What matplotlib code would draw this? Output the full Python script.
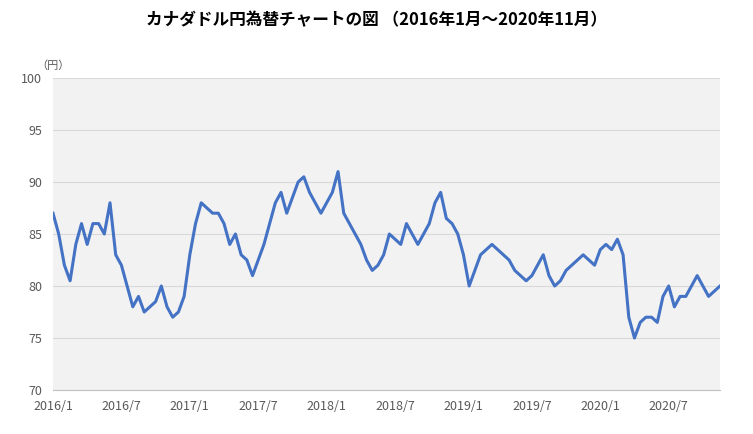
import matplotlib
matplotlib.use("Agg")
import matplotlib.pyplot as plt
import numpy as np

plt.rcParams["font.family"] = ["Noto Sans CJK JP"]

# semi-monthly values, 2016/1 .. 2020/11
values = [87,85,82,80.5,84,86,84,86,86,85,88,83,82,80,78,79,77.5,78,78.5,80,78,77,77.5,79,83,
          86,88,87.5,87,87,86,84,85,83,82.5,81,82.5,84,86,88,89,87,88.5,90,90.5,89,88,87,88,
          89,91,87,86,85,84,82.5,81.5,82,83,85,84.5,84,86,85,84,85,86,88,89,86.5,86,85,83,
          80,81.5,83,83.5,84,83.5,83,82.5,81.5,81,80.5,81,82,83,81,80,80.5,81.5,82,82.5,83,82.5,82,83.5,
          84,83.5,84.5,83,77,75,76.5,77,77,76.5,79,80,78,79,79,80,81,80,79,79.5,80,80.5]
x = np.arange(len(values)) / 2.0  # months since 2016/1
tick_pos = [0, 6, 12, 18, 24, 30, 36, 42, 48, 54]
tick_labels = ["2016/1","2016/7","2017/1","2017/7","2018/1","2018/7","2019/1","2019/7","2020/1","2020/7"]

fig = plt.figure(figsize=(7.53, 4.34), dpi=100)
ax = fig.add_axes([53/753, 44/434, 667/753, 312/434])
ax.set_facecolor("#f2f2f2")
ax.plot(x, values, color="#4472c4", lw=2.2)
ax.set_xlim(0, 58.5)
ax.set_ylim(70, 100)
ax.set_yticks(range(70, 101, 5))
ax.set_xticks(tick_pos)
ax.set_xticklabels(tick_labels)
ax.grid(axis="y", color="#d9d9d9", lw=0.8)
ax.set_axisbelow(True)
for s in ["top", "right", "left"]:
    ax.spines[s].set_visible(False)
ax.spines["bottom"].set_color("#bfbfbf")
ax.tick_params(axis="y", length=0, labelsize=9, colors="#595959", pad=8)
ax.tick_params(axis="x", length=0, labelsize=9, colors="#595959", pad=7)
fig.text(36/753, 1-66/434, "（円）", fontsize=8, color="#595959", va="center", ha="left")
fig.text(0.5, 1-20/434, "カナダドル円為替チャートの図 （2016年1月～2020年11月）",
         fontsize=12, fontweight="bold", ha="center", va="center")
fig.savefig("out.png", dpi=100)
